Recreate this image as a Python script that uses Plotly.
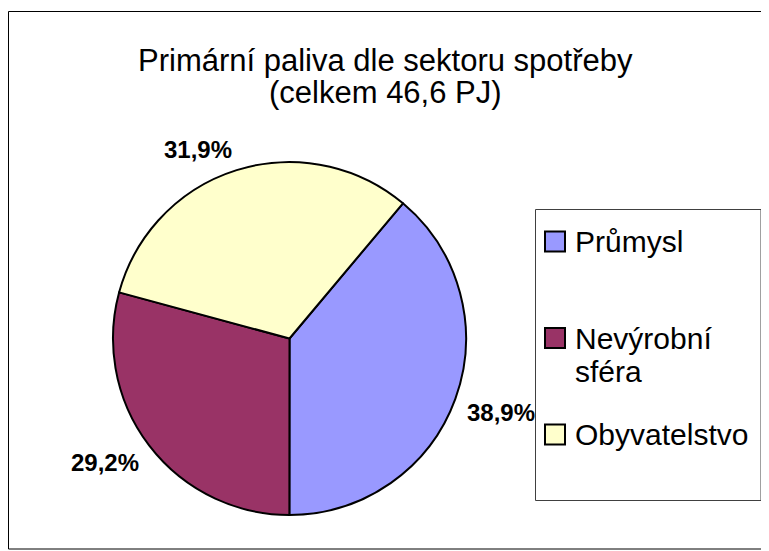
import math
import plotly.graph_objects as go

# ---- data ----
labels = ["Průmysl", "Nevýrobní sféra", "Obyvatelstvo"]
shares = [38.9, 29.2, 31.9]          # % of 46,6 PJ
colors = ["#9999FF", "#993366", "#FFFFCC"]
title_lines = ["Primární paliva dle sektoru spotřeby", "(celkem 46,6 PJ)"]

W, H = 769, 551
FONT = "Arial, 'Liberation Sans', sans-serif"
ROT = 40  # start angle (clockwise from 12 o'clock)


def px(x):
    return x / W


def py(y):
    return 1 - y / H


# pie placement (pixels)
PX0, PX1, PY0, PY1 = 105, 458, 154, 507
cx, cy = (PX0 + PX1) / 2, (PY0 + PY1) / 2
r = (PX1 - PX0) / 2

fig = go.Figure(
    go.Pie(
        labels=labels,
        values=shares,
        sort=False,
        direction="clockwise",
        rotation=ROT,
        marker=dict(colors=colors, line=dict(color="black", width=2)),
        textinfo="none",
        domain=dict(x=[px(PX0), px(PX1)], y=[py(PY1), py(PY0)]),
        showlegend=False,
        hoverinfo="label+percent",
    )
)

shapes = []
annotations = []

# outer frame
shapes.append(dict(type="rect", xref="paper", yref="paper",
                   x0=px(0.5), x1=px(759.5), y0=py(541), y1=py(3.5),
                   line=dict(color="black", width=1), fillcolor="rgba(0,0,0,0)"))

# percentage labels, placed outside each slice along its mid-angle
total = sum(shares)
cum = 0.0
HW, HH = 35, 10   # half size of a label box
for v in shares:
    mid = math.radians(ROT + (cum + v / 2) / total * 360)
    cum += v
    sx, sy = math.sin(mid), -math.cos(mid)
    d = r * 1.065
    x = cx + d * sx + math.copysign(HW, sx)
    y = cy + d * sy + math.copysign(HH, sy)
    pct = f"{v / total * 100:.1f}".replace(".", ",") + "%"
    annotations.append(dict(text=f"<b>{pct}</b>", xref="paper", yref="paper",
                            x=px(x), y=py(y), xanchor="center", yanchor="middle",
                            showarrow=False, font=dict(family=FONT, size=24, color="black")))

# title
for i, line in enumerate(title_lines):
    annotations.append(dict(text=line, xref="paper", yref="paper",
                            x=px(377), y=py(53 + i * 31), xanchor="center", yanchor="middle",
                            showarrow=False, font=dict(family=FONT, size=31, color="black")))

# legend box
shapes.append(dict(type="rect", xref="paper", yref="paper",
                   x0=px(527.5), x1=px(753), y0=py(492.5), y1=py(201.5),
                   line=dict(color="#404040", width=1), fillcolor="white"))

for i, (lab, col) in enumerate(zip(labels, colors)):
    ly = 233.5 + i * 96.5
    shapes.append(dict(type="rect", xref="paper", yref="paper",
                       x0=px(537), x1=px(557), y0=py(ly + 10), y1=py(ly - 10),
                       line=dict(color="black", width=2), fillcolor=col))
    for j, w in enumerate(lab.split(" ")):
        annotations.append(dict(text=w, xref="paper", yref="paper",
                                x=px(565), y=py(ly + j * 33), xanchor="left", yanchor="middle",
                                showarrow=False, font=dict(family=FONT, size=30, color="black")))

fig.update_layout(
    width=W, height=H,
    margin=dict(l=0, r=0, t=0, b=0),
    paper_bgcolor="white", plot_bgcolor="white",
    separators=", ",
    showlegend=False,
    shapes=shapes,
    annotations=annotations,
)

fig.write_html("out.html")
